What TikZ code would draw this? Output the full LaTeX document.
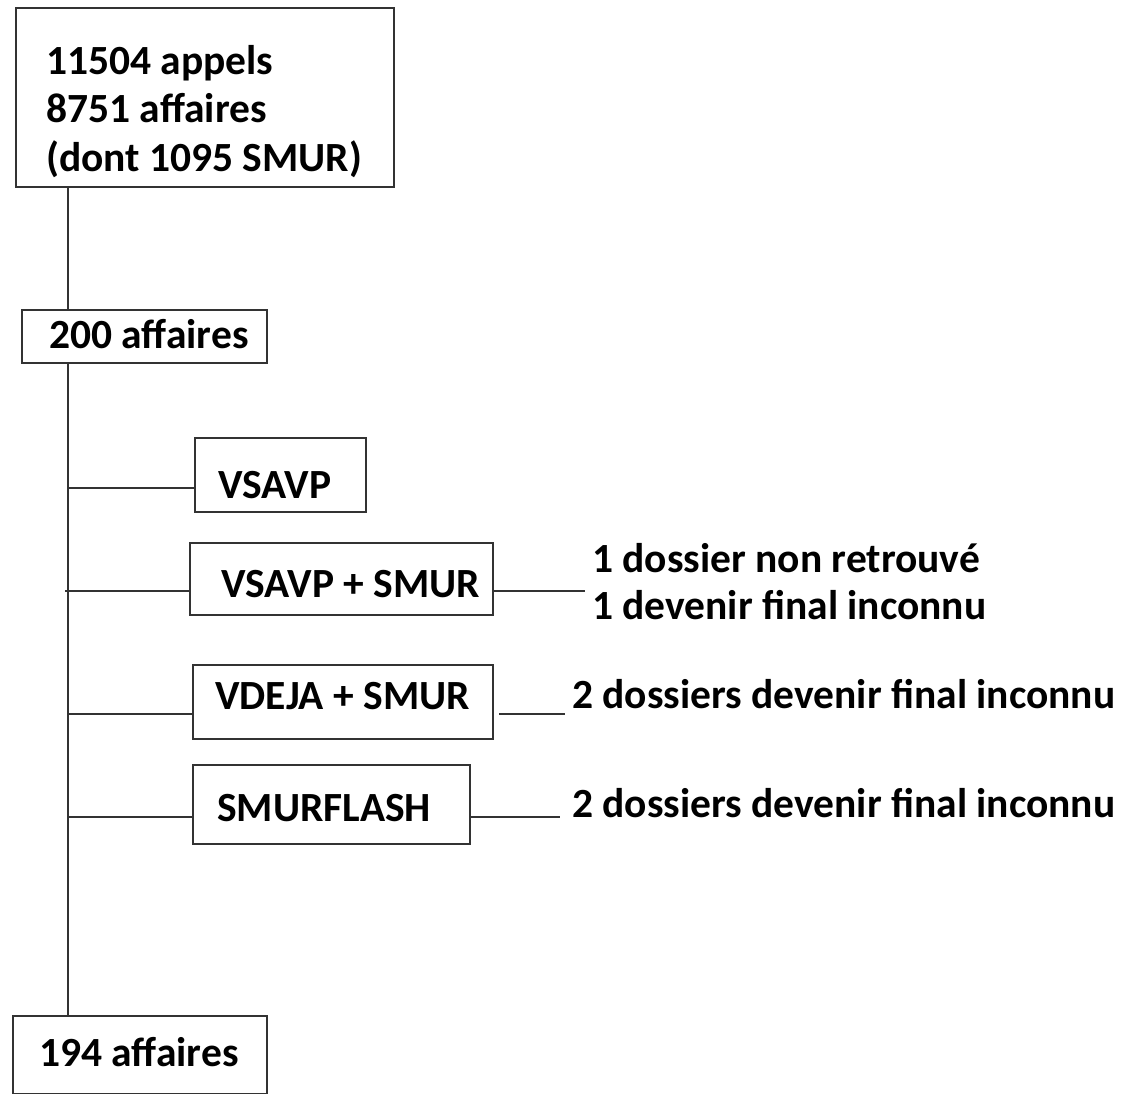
\documentclass[tikz,border=0pt]{standalone}
\usepackage{fontspec}
\setmainfont{Carlito}
\usetikzlibrary{calc}
\tikzset{box/.style={draw=black!80, line width=2.4pt, rectangle, anchor=north west,
		inner sep=0pt, align=flush left, font=\fontsize{41.5}{48.5}\selectfont\bfseries},
	note/.style={anchor=west, inner xsep=7pt, inner ysep=0pt, align=flush left,
		font=\fontsize{41.5}{47}\selectfont\bfseries},
	link/.style={draw=black!80, line width=2.4pt}}

\begin{document}
\begin{tikzpicture}[x=1pt, y=-1pt]
\useasboundingbox (0,0) rectangle (1122,1094);

\node[box, text width=378pt, minimum height=179pt] (top) at (15,7)
	{\hspace*{30pt}\rule{0pt}{56pt}11504 appels\\ \hspace*{30pt}8751 affaires\\ \hspace*{30pt}(dont 1095 SMUR)};
\node[box, text width=245pt, minimum height=53pt, text height=23pt, text depth=0pt] (aff200) at (21,309) {\hspace*{27pt}200 affaires};
\node[box, text width=171pt, minimum height=74pt, text height=46pt, text depth=0pt] (vsavp) at (194,437) {\hspace*{23pt}VSAVP};
\node[box, text width=303pt, minimum height=72pt, text height=36pt, text depth=0pt] (vsavpsmur) at (189,542) {\hspace*{31pt}VSAVP + SMUR};
\node[box, text width=300pt, minimum height=74pt, text height=14pt, text depth=0pt] (vdeja) at (192,664) {\hspace*{22pt}VDEJA + SMUR};
\node[box, text width=277pt, minimum height=79pt, text height=33pt, text depth=0pt] (smurflash) at (192,764) {\hspace*{24pt}SMURFLASH};
\node[box, text width=254pt, minimum height=78pt, text height=22pt, text depth=0pt] (aff194) at (12,1015) {\hspace*{26pt}194 affaires};

\node[note] (notea) at (585,582) {1 dossier non retrouvé\\1 devenir final inconnu};
\node[note] (noteb) at (565,694) {2 dossiers devenir final inconnu};
\node[note] (notec) at (565,803) {2 dossiers devenir final inconnu};

\coordinate (trunk) at (68,0);
	\draw [link] (top.south -| trunk) -- (aff200.north -| trunk);
	\draw [link] (aff200.south -| trunk) -- (aff194.north -| trunk);
	\draw [link] ($(vsavp.west -| trunk) + (0,13)$) -- ($(vsavp.west) + (0,13)$);
	\draw [link] ($(vsavpsmur.west -| trunk) + (-3,12)$) -- ($(vsavpsmur.west) + (0,12)$);
	\draw [link] ($(vdeja.west -| trunk) + (0,12)$) -- ($(vdeja.west) + (0,12)$);
	\draw [link] ($(smurflash.west -| trunk) + (0,12)$) -- ($(smurflash.west) + (0,12)$);

	\draw [link] ($(vsavpsmur.east) + (0,12)$) -- ($(vsavpsmur.east -| notea.west) + (0,12)$);
	\draw [link] ($(vdeja.east) + (5,12)$) -- ($(vdeja.east -| noteb.west) + (0,12)$);
	\draw [link] ($(smurflash.east) + (0,12)$) -- ($(smurflash.east -| notec.west) + (-5,12)$);
\end{tikzpicture}
\end{document}
